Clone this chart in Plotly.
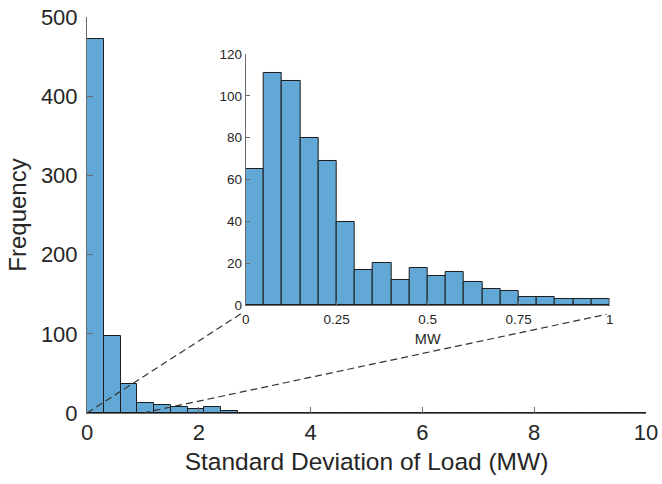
import plotly.graph_objects as go

# Histogram of load standard deviation, full range (bin width 0.3 MW)
main_bin_width = 0.3
main_counts = [472, 97, 37, 13, 10, 7, 5, 8, 3,
               0, 0, 0, 0, 0, 0, 0, 0, 0, 0, 0, 0, 0, 0, 0, 0, 0, 0, 0, 0, 0, 0, 0, 0, 0]

# Zoomed histogram of the 0-1 MW range (bin width 0.05 MW)
inset_bin_width = 0.05
inset_counts = [65, 111, 107, 80, 69, 40, 17, 20, 12, 18,
                14, 16, 11, 8, 7, 4, 4, 3, 3, 3]

main_x_ticks = [0, 2, 4, 6, 8, 10]
main_y_ticks = [0, 100, 200, 300, 400, 500]
inset_x_ticks = [0, 0.25, 0.5, 0.75, 1]
inset_x_labels = ["0", "0.25", "0.5", "0.75", "1"]
inset_y_ticks = [0, 20, 40, 60, 80, 100, 120]

main_range_x = [0, 10]
main_range_y = [0, 500]
inset_range_x = [0, 1]
inset_range_y = [0, 120]

W, H = 662, 484
M_L, M_R, M_T, M_B = 87, 16, 17, 71
inset_dom_x = [0.2839, 0.935]
inset_dom_y = [0.272, 0.9066]

BAR_FILL = "#62A8D7"
BAR_EDGE = "#1c1c1c"
AXIS_COL = "#6a6a6a"
TEXT_COL = "#262626"
FONT = "Liberation Sans, Arial, Helvetica, sans-serif"

main_centers = [main_bin_width * (i + 0.5) for i in range(len(main_counts))]
inset_centers = [inset_bin_width * (i + 0.5) for i in range(len(inset_counts))]

fig = go.Figure()
fig.add_trace(go.Bar(
    x=main_centers, y=main_counts, width=main_bin_width,
    marker=dict(color=BAR_FILL, line=dict(color=BAR_EDGE, width=1)),
    xaxis="x", yaxis="y", showlegend=False, hoverinfo="skip",
))
fig.add_trace(go.Bar(
    x=inset_centers, y=inset_counts, width=inset_bin_width,
    marker=dict(color=BAR_FILL, line=dict(color=BAR_EDGE, width=1)),
    xaxis="x2", yaxis="y2", showlegend=False, hoverinfo="skip",
))

# paper-coordinate helpers
plot_w = W - M_L - M_R
plot_h = H - M_T - M_B


def main_to_paper(xv, yv):
    px = (xv - main_range_x[0]) / (main_range_x[1] - main_range_x[0])
    py = (yv - main_range_y[0]) / (main_range_y[1] - main_range_y[0])
    return px, py


def inset_to_paper(xv, yv, dx_px=0.0, dy_px=0.0):
    fx = (xv - inset_range_x[0]) / (inset_range_x[1] - inset_range_x[0])
    fy = (yv - inset_range_y[0]) / (inset_range_y[1] - inset_range_y[0])
    px = inset_dom_x[0] + fx * (inset_dom_x[1] - inset_dom_x[0]) + dx_px / plot_w
    py = inset_dom_y[0] + fy * (inset_dom_y[1] - inset_dom_y[0]) + dy_px / plot_h
    return px, py


# dashed connectors from the zoomed 0-1 MW span to the inset corners
connectors = [
    (main_to_paper(0, 0), inset_to_paper(0, 0, -4, -8)),
    (main_to_paper(1, 0), inset_to_paper(1, 0, -3, -9)),
]
shapes = []
for (x0, y0), (x1, y1) in connectors:
    shapes.append(dict(
        type="line", xref="paper", yref="paper",
        x0=x0, y0=y0, x1=x1, y1=y1,
        line=dict(color="#333333", width=1.2, dash="7px,4px"),
    ))

axis_common = dict(
    showline=True, linecolor=AXIS_COL, linewidth=1,
    ticks="inside", tickcolor=AXIS_COL, tickwidth=1,
    showgrid=False, zeroline=False, mirror=False, automargin=False,
)

fig.update_layout(
    width=W, height=H,
    margin=dict(l=M_L, r=M_R, t=M_T, b=M_B, pad=0, autoexpand=False),
    paper_bgcolor="white", plot_bgcolor="rgba(0,0,0,0)",
    bargap=0,
    font=dict(family=FONT, color=TEXT_COL),
    shapes=shapes,
    xaxis=dict(
        **axis_common, domain=[0, 1], range=main_range_x, anchor="y",
        tickvals=main_x_ticks, ticklen=6,
        tickfont=dict(size=22, color=TEXT_COL),
        title=dict(text="Standard Deviation of Load (MW)",
                   font=dict(size=24.5, color=TEXT_COL), standoff=8),
    ),
    yaxis=dict(
        **axis_common, domain=[0, 1], range=main_range_y, anchor="x",
        tickvals=main_y_ticks, ticklen=6, ticklabelstandoff=4,
        tickfont=dict(size=22, color=TEXT_COL),
        title=dict(text="Frequency", font=dict(size=24, color=TEXT_COL), standoff=7),
    ),
    xaxis2=dict(
        **axis_common, domain=inset_dom_x, range=inset_range_x, anchor="y2",
        tickvals=inset_x_ticks, ticktext=inset_x_labels, ticklen=4,
        ticklabelstandoff=2,
        tickfont=dict(size=13.5, color=TEXT_COL),
        title=dict(text="MW", font=dict(size=14.5, color=TEXT_COL), standoff=7),
    ),
    yaxis2=dict(
        **axis_common, domain=inset_dom_y, range=inset_range_y, anchor="x2",
        tickvals=inset_y_ticks, ticklen=4,
        tickfont=dict(size=13.5, color=TEXT_COL),
    ),
)

fig.write_html("out.html")
